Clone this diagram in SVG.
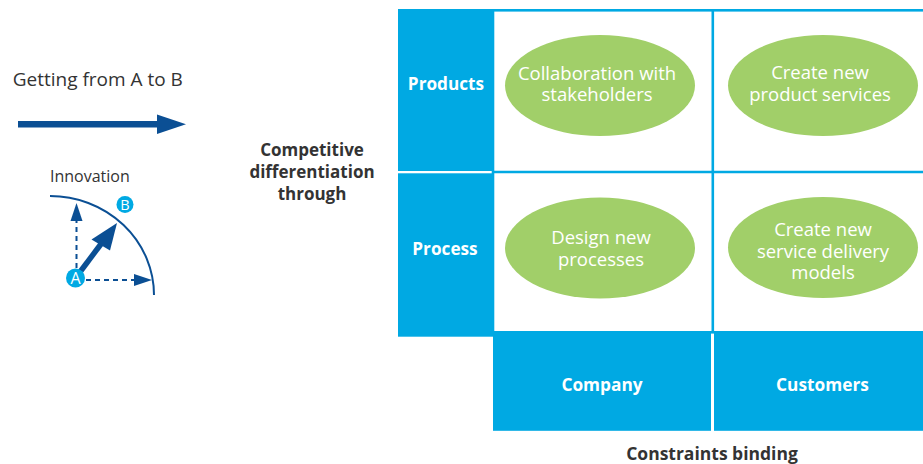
<svg xmlns="http://www.w3.org/2000/svg" width="923" height="464" viewBox="0 0 923 464">
<style>
.t{font-family:"Open Sans","Noto Sans","Liberation Sans",sans-serif;fill:#333333}
.b{font-weight:bold}
.w{fill:#ffffff}
.e{font-size:18.5px}
.blue{fill:#00a9e3}
.line{stroke:#00a9e3;stroke-width:2.6;fill:none}
.ell{fill:#a1cf69}
.dk{stroke:#0b4f94;fill:none}
.dkf{fill:#0b4f94}
</style>
<rect width="923" height="464" fill="#ffffff"/>
<g id="title">
<text class="t" x="12.7" y="86" font-size="19">Getting from A to B</text>
</g>
<g id="innovation-label">
<text class="t" x="50" y="182" font-size="16">Innovation</text>
</g>
<g id="competitive-label">
<text class="t b" x="312" y="156" font-size="17" text-anchor="middle">Competitive</text>
<text class="t b" x="312" y="178" font-size="17" text-anchor="middle">differentiation</text>
<text class="t b" x="312" y="200" font-size="17" text-anchor="middle">through</text>
</g>
<g id="arc">
<path class="dk" stroke-width="2" d="M50 196 A104 99 0 0 1 154 295"/>
</g>
<g id="connectors">
<rect class="dkf" x="18" y="121" width="141" height="6.5"/>
<polygon class="dkf" points="157,114.5 186,124.2 157,134"/>
<line class="dk" stroke-width="2" stroke-dasharray="5 4" x1="76.5" y1="268" x2="76.5" y2="219"/>
<polygon class="dkf" points="76.5,203 70.5,221 82.5,221"/>
<line class="dk" stroke-width="2" stroke-dasharray="5 4" x1="86" y1="280" x2="136" y2="280"/>
<polygon class="dkf" points="152,280 134,274 134,286"/>
<line class="dk" stroke-width="5.5" x1="80" y1="272" x2="101" y2="244"/>
<polygon class="dkf" points="117,223 91.5,239.5 110,250.5"/>
</g>
<g id="point-a">
<circle class="blue" cx="75.5" cy="278" r="9.5"/>
<text class="t w" x="75.5" y="284" font-size="16" text-anchor="middle">A</text>
</g>
<g id="point-b">
<circle class="blue" cx="125" cy="204.5" r="8.5"/>
<text class="t w" x="125" y="210" font-size="14.5" text-anchor="middle">B</text>
</g>
<g id="grid">
<rect class="line" x="493" y="10.3" width="440" height="322" fill="#ffffff"/>
<line class="line" x1="493" y1="172" x2="923" y2="172"/>
<line class="line" x1="712.8" y1="10" x2="712.8" y2="332"/>
</g>
<g id="products">
<rect class="blue" x="398" y="9" width="95" height="162"/>
<text class="t b w" x="446" y="90" font-size="17.2" text-anchor="middle">Products</text>
</g>
<g id="process">
<rect class="blue" x="398" y="173.3" width="95" height="163.4"/>
<text class="t b w" x="445" y="255" font-size="17.2" text-anchor="middle">Process</text>
</g>
<g id="company">
<rect class="blue" x="493" y="332.3" width="218" height="98.5"/>
<text class="t b w" x="602" y="391" font-size="17.3" text-anchor="middle">Company</text>
</g>
<g id="customers">
<rect class="blue" x="714" y="332.3" width="209" height="98.5"/>
<text class="t b w" x="822.5" y="391" font-size="17.3" text-anchor="middle">Customers</text>
</g>
<g id="constraints-label">
<text class="t b" x="712" y="459.5" font-size="17.5" text-anchor="middle">Constraints binding</text>
</g>
<g id="collaboration">
<ellipse class="ell" cx="600" cy="85.5" rx="95" ry="50.5"/>
<text class="t w e" x="597" y="80" text-anchor="middle">Collaboration with</text>
<text class="t w e" x="597" y="101" text-anchor="middle">stakeholders</text>
</g>
<g id="product-services">
<ellipse class="ell" cx="823" cy="85.5" rx="95" ry="50.5"/>
<text class="t w e" x="820" y="79" text-anchor="middle">Create new</text>
<text class="t w e" x="820" y="100.5" text-anchor="middle">product services</text>
</g>
<g id="design-processes">
<ellipse class="ell" cx="600" cy="248" rx="95" ry="50.5"/>
<text class="t w e" x="601" y="244" text-anchor="middle">Design new</text>
<text class="t w e" x="601" y="265.5" text-anchor="middle">processes</text>
</g>
<g id="service-delivery">
<ellipse class="ell" cx="823" cy="247.5" rx="95" ry="50.5"/>
<text class="t w e" x="823" y="236" text-anchor="middle">Create new</text>
<text class="t w e" x="823" y="257.5" text-anchor="middle">service delivery</text>
<text class="t w e" x="823" y="279" text-anchor="middle">models</text>
</g>
</svg>
